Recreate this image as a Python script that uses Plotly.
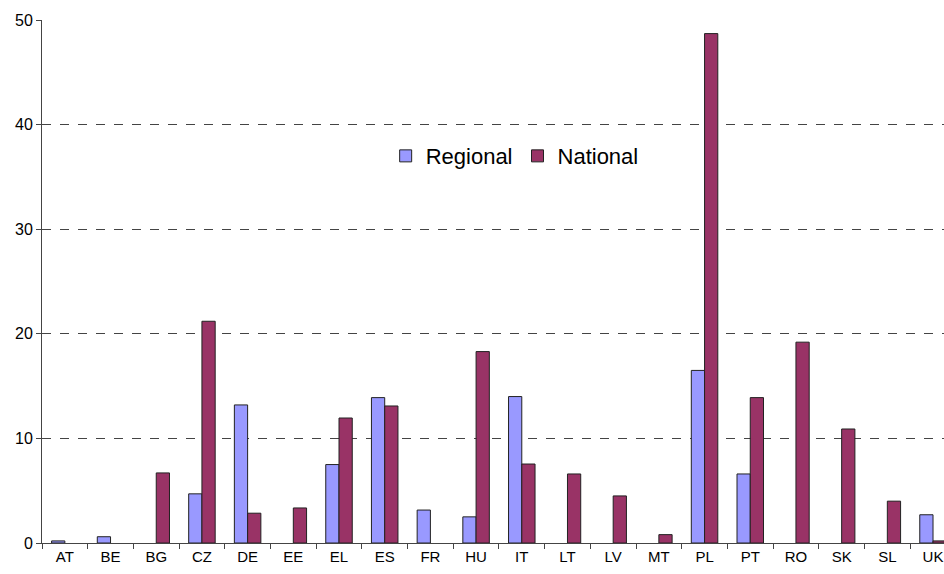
import plotly.graph_objects as go

countries = ["AT", "BE", "BG", "CZ", "DE", "EE", "EL", "ES", "FR", "HU",
             "IT", "LT", "LV", "MT", "PL", "PT", "RO", "SK", "SL", "UK"]
regional = [0.2, 0.6, None, 4.7, 13.2, None, 7.5, 13.9, 3.15, 2.5,
            14.0, None, None, None, 16.5, 6.6, None, None, None, 2.7]
national = [None, None, 6.7, 21.2, 2.85, 3.35, 11.95, 13.1, None, 18.3,
            7.55, 6.6, 4.5, 0.8, 48.7, 13.9, 19.2, 10.9, 4.0, 0.2]

fig = go.Figure()
fig.add_trace(go.Bar(name="Regional", x=countries, y=regional,
                     marker=dict(color="#9999FF", line=dict(color="#222222", width=1))))
fig.add_trace(go.Bar(name="National", x=countries, y=national,
                     marker=dict(color="#993366", line=dict(color="#222222", width=1))))

fig.update_layout(
    width=944, height=574,
    margin=dict(l=42, r=0, t=20, b=31),
    paper_bgcolor="white", plot_bgcolor="white",
    barmode="group", bargap=0.42, bargroupgap=0,
    font=dict(family="Liberation Sans, Arial, sans-serif", size=15, color="black"),
    showlegend=True,
    legend=dict(orientation="h", x=0.381, y=0.78, xanchor="left", yanchor="top",
                font=dict(size=22), bgcolor="rgba(0,0,0,0)", itemwidth=30,
                traceorder="normal"),
)
fig.update_xaxes(
    type="category", range=[-0.5, 19.24],
    showline=True, linecolor="#444444", linewidth=1,
    ticks="outside", tickson="boundaries", ticklen=5, tickcolor="#444444",
    showgrid=False, tickfont=dict(size=15), fixedrange=True,
)
fig.update_yaxes(
    range=[0, 50], dtick=10,
    showline=True, linecolor="#444444", linewidth=1,
    ticks="outside", ticklen=5, tickcolor="#444444",
    showgrid=True, gridcolor="#444444", gridwidth=1, griddash="dash",
    zeroline=False, tickfont=dict(size=16),
)

fig.write_html("out.html", config={"displayModeBar": False},
               post_script="document.body.style.margin='0';document.body.style.overflow='hidden';")
